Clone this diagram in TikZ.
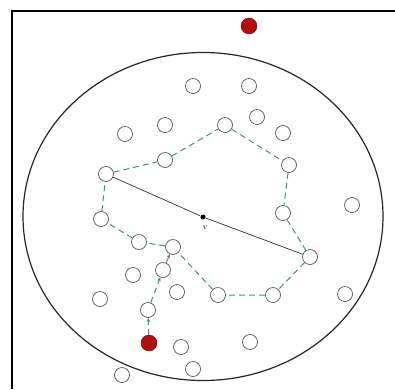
\documentclass[tikz,border=0pt]{standalone}
\usetikzlibrary{arrows.meta}
\definecolor{ringgray}{RGB}{85,85,85}
\definecolor{pathgreen}{RGB}{60,150,120}
\definecolor{dotred}{RGB}{175,15,15}
\begin{document}
\begin{tikzpicture}[x=1pt,y=-1pt,
  pt/.style={circle,draw=ringgray,line width=0.7pt,minimum size=15pt,inner sep=0pt,fill=white},
  reddot/.style={circle,fill=dotred,draw=dotred!70!black,line width=0.4pt,minimum size=16pt,inner sep=0pt},
  gpath/.style={draw=pathgreen,line width=1pt,dash pattern=on 6pt off 4pt},
  garrow/.style={gpath,-{Stealth[length=4pt,width=3.5pt]}}]
\useasboundingbox (0,0) rectangle (395,389);
\fill[white] (0,0) rectangle (395,389);
% frame
\draw[line width=2pt] (12,389) -- (12,11) -- (395,11);
% big circle
\draw[line width=1.2pt,black!85] (203,216.5) ellipse [x radius=180, y radius=164];
% solid line
\node[pt] (a1) at (106,174) {};
\node[pt] (a2) at (165,160) {};
\node[pt] (a3) at (225,125) {};
\node[pt] (a4) at (289,165) {};
\node[pt] (a5) at (283,213) {};
\node[pt] (a6) at (310,257) {};
\node[pt] (a7) at (273,295) {};
\node[pt] (a8) at (218,295) {};
\node[pt] (a9) at (173,247) {};
\node[pt] (a10) at (139,242) {};
\node[pt] (a11) at (101,219) {};
\node[pt] (b1) at (148,310) {};
\node[pt] (b2) at (163,270) {};
\node[reddot] (r1) at (149,343) {};
\node[reddot] (r2) at (249,26) {};
% other points
\node[pt] (o1) at (193,86) {};
\node[pt] (o2) at (249,86) {};
\node[pt] (o3) at (125,134) {};
\node[pt] (o4) at (165,125) {};
\node[pt] (o5) at (257,117) {};
\node[pt] (o6) at (283,133) {};
\node[pt] (o7) at (352,205) {};
\node[pt] (o8) at (133,275) {};
\node[pt] (o9) at (177,292) {};
\node[pt] (o10) at (100,299) {};
\node[pt] (o11) at (345,294) {};
\node[pt] (o12) at (181,347) {};
\node[pt] (o13) at (250,342) {};
\node[pt] (o14) at (193,369) {};
\node[pt] (o15) at (122,375) {};
% v
\node[circle,fill=black,minimum size=5pt,inner sep=0pt] (v) at (203,217) {};
\node[font=\fontsize{8}{8}\selectfont,inner sep=0pt] (vl) at (205,228) {v};
\draw[line width=0.7pt,black!80] (a1) -- (v) -- (a6);
% green loop
\draw[gpath] (a1) -- (a2) -- (a3) -- (a4) -- (a5) -- (a6) -- (a7) -- (a8) -- (a9) -- (a10) -- (a11) -- (a1);
% red path
\draw[garrow] (r1) -- (b1);
\draw[garrow] (b1) -- (b2);
\draw[garrow] (b2) -- (a9);
\end{tikzpicture}
\end{document}
